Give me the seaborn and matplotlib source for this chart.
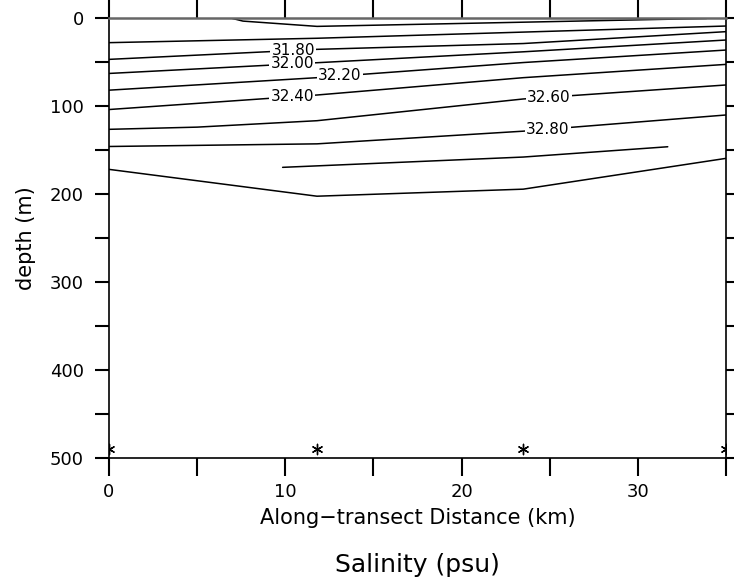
import numpy as np
import pandas as pd
import matplotlib
matplotlib.use('Agg')
import matplotlib.pyplot as plt
import seaborn as sns

# station positions along the transect (km) and the depth of the star markers
stations_km = [0.0, 11.8, 23.5, 35.0]
marker_depth = 490

# contour lines: (label, x positions, depths)
top_x = [7.0, 7.6, 11.8, 33.9]
top_depth = [0.5, 3.5, 9.5, 0.5]
s3160_depth = [28, 23, 16, 9.1]
s3180_depth = [47, 35.6, 29, 15.5]
s3200_depth = [63, 50.8, 38.4, 25]
s3220_depth = [82, 67.8, 50.6, 36.4]
s3240_depth = [104, 87.5, 67.8, 52.7]
s3260_x = [0.0, 5.0, 11.8, 23.5, 35.0]
s3260_depth = [126.5, 124, 116.7, 92, 76.1]
s3280_depth = [146, 143, 128.6, 110.2]
s3300_x = [9.85, 23.5, 31.7]
s3300_depth = [169.7, 158, 146.3]
bottom_depth = [172, 202.5, 194.5, 159.5]

lines = [
    ('top', top_x, top_depth),
    ('31.60', stations_km, s3160_depth),
    ('31.80', stations_km, s3180_depth),
    ('32.00', stations_km, s3200_depth),
    ('32.20', stations_km, s3220_depth),
    ('32.40', stations_km, s3240_depth),
    ('32.60', s3260_x, s3260_depth),
    ('32.80', stations_km, s3280_depth),
    ('33.00', s3300_x, s3300_depth),
    ('bottom', stations_km, bottom_depth),
]

# where the inline labels sit (km along transect)
label_x = {'31.80': 10.45, '32.00': 10.4, '32.20': 13.1, '32.40': 10.4,
           '32.60': 24.95, '32.80': 24.9}

rows = []
for name, xs, ds in lines:
    for x, d in zip(xs, ds):
        rows.append({'line': name, 'x': x, 'depth': d})
df = pd.DataFrame(rows)

sns.set_style('ticks')
plt.rcParams['font.family'] = ['DejaVu Sans']
plt.rcParams['text.color'] = 'black'
plt.rcParams['axes.labelcolor'] = 'black'
plt.rcParams['xtick.color'] = 'black'
plt.rcParams['ytick.color'] = 'black'

fig = plt.figure(figsize=(7.34, 5.87), dpi=100)
ax = fig.add_axes([0.1485, 0.2198, 0.8405, 0.7495])

sns.lineplot(data=df, x='x', y='depth', units='line', estimator=None,
             sort=False, color='black', linewidth=1.1, ax=ax, legend=False)

for name, xs, ds in lines:
    if name in label_x:
        lx = label_x[name]
        ly = np.interp(lx, xs, ds)
        ax.text(lx, ly, name, ha='center', va='center', fontsize=11,
                color='black', zorder=5,
                bbox=dict(facecolor='white', edgecolor='none', pad=0.8))

ax.scatter(stations_km, [marker_depth] * len(stations_km), marker=(6, 2, 0),
           s=55, color='black', linewidth=1.0, zorder=6, clip_on=True)

ax.set_xlim(0, 35)
ax.set_ylim(500, 0)
ax.set_xticks([0, 10, 20, 30])
ax.set_xticks(np.arange(0, 36, 5), minor=True)
ax.set_yticks(np.arange(0, 501, 100))
ax.set_yticks(np.arange(0, 501, 50), minor=True)

for which in ['major', 'minor']:
    ax.tick_params(axis='both', which=which, direction='out', length=10,
                   width=1.5, color='black', top=True, right=True,
                   labeltop=False, labelright=False)
ax.tick_params(axis='x', which='both', top=True, length=13, pad=5, labelsize=13)
ax.tick_params(axis='y', which='both', pad=8, labelsize=13)

for side in ['left', 'bottom', 'right']:
    ax.spines[side].set_color('black')
    ax.spines[side].set_linewidth(1.2)
ax.spines['top'].set_color('#666666')
ax.spines['top'].set_linewidth(1.8)

ax.set_xlabel('Along\u2212transect Distance (km)', fontsize=15, labelpad=5)
ax.set_ylabel('depth (m)', fontsize=15, labelpad=10)

fig.text(0.569, 0.037, 'Salinity (psu)', ha='center', va='center', fontsize=18)

fig.savefig('out.png', dpi=100)
